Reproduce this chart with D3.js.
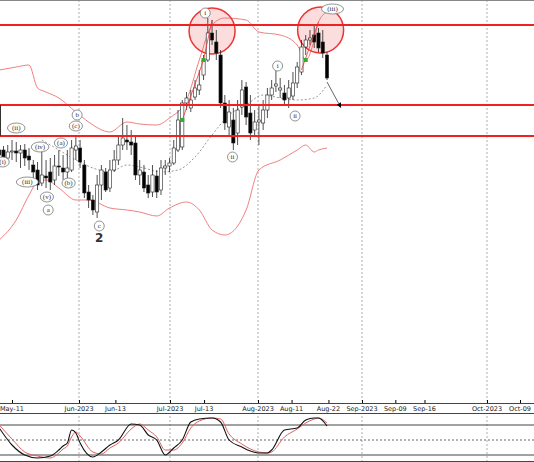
<!DOCTYPE html>
<html><head><meta charset="utf-8">
<script src="https://cdn.jsdelivr.net/npm/d3@7"></script>
<style>body{margin:0;background:#fff}svg{display:block;font-family:"DejaVu Sans",sans-serif}</style>
</head><body><svg id="c" width="534" height="462"></svg>
<script>
// candle index -3..74, trading days counted from May-11-2023
const firstIdx = -3;
const opens  = [250,250,242,248,249,247,250,244,235,230,217,224,228,220,234,232,228,230,250,252,235,208,200,188,215,228,212,230,240,255,260,258,257,225,228,215,208,224,210,232,234,237,250,253,297,292,303,310,325,340,367,358,345,297,273,280,267,293,313,287,270,278,277,290,305,314,310,307,302,304,317,328,353,360,365,367,358,345];
const highs  = [260,254,255,260,258,255,256,252,240,238,250,240,242,245,250,245,250,260,265,260,240,215,205,225,235,232,240,250,265,282,275,270,265,240,235,225,235,230,240,240,242,260,290,300,308,310,320,330,345,382,380,370,350,305,300,292,300,320,318,305,290,295,300,312,320,330,322,315,320,328,338,360,365,370,375,372,370,348];
const lows   = [240,234,238,240,238,232,234,230,222,210,214,212,210,215,224,220,222,228,240,232,202,192,185,182,200,208,208,228,235,250,250,245,220,215,208,202,203,202,205,225,228,235,248,250,290,288,300,305,320,338,355,340,292,270,265,250,255,285,275,260,264,255,270,282,300,308,302,296,292,300,312,325,345,355,352,348,342,320];
const closes = [245,240,248,249,247,250,242,240,228,215,225,222,218,234,233,228,232,252,254,238,207,200,190,215,230,210,230,240,255,262,258,255,225,230,212,207,225,208,232,234,237,252,280,297,302,300,312,315,340,367,360,347,297,277,288,257,290,310,283,267,278,280,290,305,312,316,312,300,312,317,333,353,360,362,358,352,347,322];

// bollinger bands & middle line, sampled at candle indices
const bandIdx  = [-3,1,4,6,8,11,15,18,23,27,30,34,37,41,44,47,50,55,58,63,67,69,71,72,74];
const bandUp   = [330,333,335,312,308,302,288,278,268,278,276,275,282,300,340,375,382,380,368,365,355,340,360,378,388];
const bandLow  = [160,180,205,218,220,212,200,200,192,190,188,184,192,198,190,170,165,190,230,240,250,255,248,250,252];
const midIdx   = [7,11,15,19,23,27,31,35,39,43,47,51,55,59,63,67,71,74];
const midLine  = [260,250,240,232,228,235,232,228,230,243,265,285,295,305,302,300,302,315];

// stochastic
const stochIdx = [-3,0,3,6,9,11,12,13,14,15,16,19,21,23,25,28,30,32,34,36,38,40,42,44,47,49,51,54,56,58,60,61,64,67,69,71,72,74];
const stochK   = [74,40,20,14,18,30,38,44,70,64,44,16,26,40,50,82,80,60,50,20,34,50,86,92,94,86,50,36,28,24,24,30,70,74,90,94,94,78];
const stochD   = [80,52,26,18,14,24,32,38,56,66,58,26,22,34,44,72,82,70,56,30,30,44,74,88,94,92,62,42,32,26,24,26,56,72,84,92,94,84];

const hLevels = [375,295,264];
const circles = [{i:47,p:369},{i:72.5,p:370}];
const greenMarks = [{i:40,p:280},{i:45,p:340},{i:69,p:340}];
const waves = [
  {i:-2.2,p:238,t:"(i)"},{i:1,p:272,t:"(ii)"},{i:3.6,p:218,t:"(iii)"},{i:6.6,p:253,t:"(iv)"},{i:8.2,p:203,t:"(v)"},{i:8.5,p:190,t:"a"},
  {i:11.5,p:257,t:"(a)"},{i:13.3,p:217,t:"(b)"},{i:15.3,p:285,t:"b"},{i:15,p:274,t:"(c)"},{i:20.5,p:174,t:"c"},
  {i:45.4,p:387,t:"i"},{i:51.8,p:243,t:"ii"},{i:62.4,p:334,t:"i"},{i:66.5,p:284,t:"ii"},{i:75.3,p:391,t:"(iii)"}
];
const tickDates = ["2023-05-11","2023-06-01","2023-06-13","2023-07-01","2023-07-13","2023-08-01","2023-08-11","2023-08-22","2023-09-01","2023-09-09","2023-09-16","2023-10-01","2023-10-09"];
const tickLabels = ["May-11","Jun-2023","Jun-13","Jul-2023","Jul-13","Aug-2023","Aug-11","Aug-22","Sep-2023","Sep-09","Sep-16","Oct-2023","Oct-09"];
const monthDates = ["2023-06-01","2023-07-01","2023-08-01","2023-09-01","2023-10-01"];

const svg = d3.select("#c");
const x = d3.scaleLinear().domain([0, 74]).range([12, 327]);
const y = d3.scaleLinear().domain([0, 400]).range([400, 0]);
const ys = d3.scaleLinear().domain([0, 100]).range([465, 415]);
const pd = d3.timeParse("%Y-%m-%d");
const xt = d3.scaleTime()
  .domain(["2023-05-11","2023-06-01","2023-07-01","2023-08-01","2023-09-01","2023-10-01","2023-10-09"].map(pd))
  .range([12,79,170,258,362,487,520]);

// month grid
svg.selectAll(".grid").data(monthDates).join("line")
  .attr("x1", d => xt(pd(d))).attr("x2", d => xt(pd(d)))
  .attr("y1", 0).attr("y2", 462)
  .attr("stroke", "#999").attr("stroke-dasharray", "2,2").attr("stroke-width", 0.8);

svg.append("line").attr("x1",0).attr("x2",534).attr("y1",0.5).attr("y2",0.5).attr("stroke","#888");

// bands
const bl = d3.line().x((d,k) => x(bandIdx[k])).y(d => y(d)).curve(d3.curveMonotoneX);
svg.append("path").attr("d", bl(bandUp)).attr("fill","none").attr("stroke","#f08080").attr("stroke-width",1);
svg.append("path").attr("d", bl(bandLow)).attr("fill","none").attr("stroke","#f08080").attr("stroke-width",1);
svg.append("path").attr("d", d3.line().x((d,k) => x(midIdx[k])).y(d => y(d)).curve(d3.curveMonotoneX)(midLine))
  .attr("fill","none").attr("stroke","#999").attr("stroke-dasharray","2,2");

// circles
svg.selectAll(".circ").data(circles).join("circle")
  .attr("cx", d => x(d.i)).attr("cy", d => y(d.p)).attr("r", 23)
  .attr("fill","rgba(240,100,100,0.22)").attr("stroke","#e33").attr("stroke-width",1.5);

// candles
const candles = closes.map((c,k) => ({i:k+firstIdx, o:opens[k], h:highs[k], l:lows[k], c}));
svg.selectAll(".wick").data(candles).join("line")
  .attr("x1", d => x(d.i)).attr("x2", d => x(d.i))
  .attr("y1", d => y(Math.max(d.h,d.o,d.c))).attr("y2", d => y(Math.min(d.l,d.o,d.c))).attr("stroke","#222").attr("stroke-width",0.8);
svg.selectAll(".body").data(candles).join("rect")
  .attr("x", d => x(d.i)-1.6).attr("width", 3.2)
  .attr("y", d => y(Math.max(d.o,d.c))).attr("height", d => Math.max(1, Math.abs(y(d.o)-y(d.c))))
  .attr("fill", d => d.c >= d.o ? "#fff" : "#000").attr("stroke","#222").attr("stroke-width",0.6);

// trend lines through rising legs
svg.append("path").attr("d", d3.line().x(d => x(d.i)).y(d => y(d.p))([{i:40,p:280},{i:45,p:340},{i:47,p:380}]))
  .attr("fill","none").attr("stroke","#e33").attr("stroke-width",0.8);
svg.append("path").attr("d", d3.line().x(d => x(d.i)).y(d => y(d.p))([{i:68,p:330},{i:72,p:378}]))
  .attr("fill","none").attr("stroke","#e33").attr("stroke-width",0.8);
svg.selectAll(".gm").data(greenMarks).join("rect")
  .attr("x", d => x(d.i)-2).attr("y", d => y(d.p)-2).attr("width",4).attr("height",4).attr("fill","#3a3");

// horizontal levels + box edge
svg.selectAll(".lvl").data(hLevels).join("line")
  .attr("x1",0).attr("x2",534).attr("y1", d => y(d)).attr("y2", d => y(d))
  .attr("stroke","#e22").attr("stroke-width",2);
svg.append("line").attr("x1",0.5).attr("x2",0.5).attr("y1",y(hLevels[1])).attr("y2",y(hLevels[2])).attr("stroke","#333");

// projection arrow
svg.append("defs").append("marker").attr("id","ah").attr("viewBox","0 0 10 10").attr("refX",8).attr("refY",5)
  .attr("markerWidth",5).attr("markerHeight",5).attr("orient","auto")
  .append("path").attr("d","M0,0L10,5L0,10z").attr("fill","#000");
svg.append("line").attr("x1",x(74)).attr("y1",y(318)).attr("x2",x(77.2)).attr("y2",y(293))
  .attr("stroke","#666").attr("stroke-width",1).attr("marker-end","url(#ah)");

// wave labels
const wg = svg.selectAll(".wave").data(waves).join("g").attr("transform", d => `translate(${x(d.i)},${y(d.p)})`);
wg.append("ellipse").attr("rx", d => Math.max(5, d.t.length*2.2)).attr("ry",5)
  .attr("fill","#fff").attr("stroke","#777").attr("stroke-width",0.8);
wg.append("text").attr("text-anchor","middle").attr("dy","0.35em").attr("font-size",7).attr("fill","#333")
  .attr("font-family","Liberation Serif,serif").text(d => d.t);
svg.append("text").attr("x", x(20.5)).attr("y", y(158)).attr("text-anchor","middle").attr("font-size",12)
  .attr("font-weight","bold").attr("fill","#333").text("2");

// time axis
svg.append("rect").attr("x",0).attr("y",401).attr("width",534).attr("height",13).attr("fill","#fff");
svg.append("line").attr("x1",0).attr("x2",534).attr("y1",403.5).attr("y2",403.5).attr("stroke","#444");
svg.append("line").attr("x1",0).attr("x2",534).attr("y1",413.5).attr("y2",413.5).attr("stroke","#444");
const ax = svg.append("g").attr("transform","translate(0,403)")
  .call(d3.axisTop(xt).tickValues(tickDates.map(pd)).tickSize(3).tickFormat(() => ""));
ax.select(".domain").remove();
svg.selectAll(".tl").data(tickDates).join("text")
  .attr("x", d => xt(pd(d))).attr("y", 411).attr("text-anchor","middle").attr("font-size",6.5).attr("fill","#222")
  .text((d,k) => tickLabels[k]);

// stochastic panel
[80,20].forEach(v => svg.append("line").attr("x1",0).attr("x2",534).attr("y1",ys(v)).attr("y2",ys(v)).attr("stroke","#444"));
svg.append("line").attr("x1",0).attr("x2",534).attr("y1",ys(50)).attr("y2",ys(50)).attr("stroke","#666").attr("stroke-dasharray","2,2");
svg.append("line").attr("x1",0).attr("x2",534).attr("y1",461.5).attr("y2",461.5).attr("stroke","#444");
const sl = d3.line().x((d,k) => x(stochIdx[k])).y(d => ys(d)).curve(d3.curveMonotoneX);
svg.append("path").attr("d", sl(stochD)).attr("fill","none").attr("stroke","#e06060").attr("stroke-width",1);
svg.append("path").attr("d", sl(stochK)).attr("fill","none").attr("stroke","#111").attr("stroke-width",1.1);
</script></body></html>
